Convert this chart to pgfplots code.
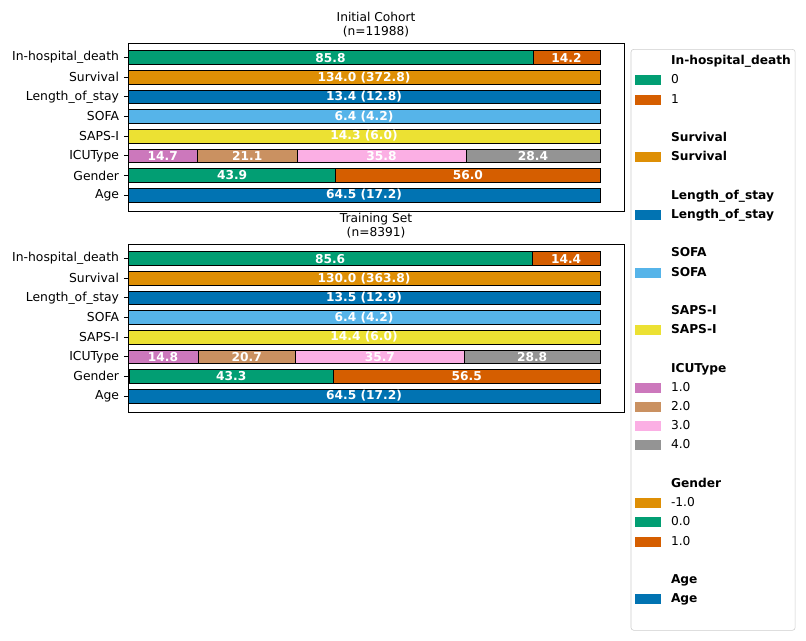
\documentclass[border=0pt]{standalone}
\usepackage{pgfplots}
\pgfplotsset{compat=1.18}
\usepackage{fontspec}
\setmainfont{DejaVu Sans}
\definecolor{cgreen}{HTML}{029E73}
\definecolor{cverm}{HTML}{D55E00}
\definecolor{corange}{HTML}{DE8F05}
\definecolor{cblue}{HTML}{0173B2}
\definecolor{clblue}{HTML}{56B4E9}
\definecolor{cyellow}{HTML}{ECE133}
\definecolor{cpink}{HTML}{CC78BC}
\definecolor{ctan}{HTML}{CA9161}
\definecolor{clpink}{HTML}{FBAFE4}
\definecolor{cgray}{HTML}{949494}
\newcommand{\seg}[3]{\addplot[xbar, forget plot, fill=#1, draw=black, line width=0.5pt, bar width=0.7, bar shift=0pt] coordinates {(#2,#3)};}
\pgfplotsset{
  panel/.style={
    scale only axis, width=357.1pt, height=121pt,
    xmin=0, xmax=105.08, ymin=-0.82, ymax=7.74,
    xtick=\empty, ytick={0,...,7}, ytick pos=left,
    yticklabels={Age,Gender,ICUType,SAPS-I,SOFA,Length\_of\_stay,Survival,In-hospital\_death},
    tick align=outside, major tick length=3pt,
    ytick style={line width=0.6pt, black},
    axis line style={line width=0.6pt},
    yticklabel style={font=\fontsize{8.9}{10}\selectfont},
    every axis title shift=0pt,
    title style={at={(0.5,1)}, anchor=south, yshift=0.8pt, align=center, font=\fontsize{8.8}{10.1}\selectfont},
  },
  barlabels/.style={forget plot, draw=none, mark=none, point meta=explicit symbolic,
    nodes near coords, nodes near coords align=center,
    every node near coord/.append style={text=white, font=\bfseries\fontsize{8.8}{10}\selectfont, anchor=center, inner sep=0pt}},
}
\begin{document}
\begin{tikzpicture}
\useasboundingbox (0,0) rectangle (580.3pt,-460.8pt);
\begin{axis}[panel, at={(92.2pt,-31pt)}, anchor=north west,
  title={Initial Cohort\\(n=11988)},
  legend style={at={(1,1)}, anchor=north west, xshift=4.8pt, yshift=-4.3pt,
    draw=black!20, fill=white, rounded corners=2pt, inner xsep=3.1pt, inner ysep=1.7pt,
    row sep=0pt, column sep=7pt, font=\fontsize{8.8}{10}\selectfont,
    nodes={inner sep=0pt, minimum height=13.83pt}, cells={anchor=west}},
  legend image code/.code={\fill[#1, draw=none, sharp corners] (0pt,-3.6pt) rectangle (18.7pt,3.6pt);},
]
% In-hospital_death
\seg{cverm}{100}{7}
\seg{cgreen}{85.8}{7}
% Survival, LOS, SOFA, SAPS
\seg{corange}{100}{6}
\seg{cblue}{100}{5}
\seg{clblue}{100}{4}
\seg{cyellow}{100}{3}
% ICUType
\seg{cgray}{100}{2}
\seg{clpink}{71.6}{2}
\seg{ctan}{35.8}{2}
\seg{cpink}{14.7}{2}
% Gender
\seg{cverm}{100}{1}
\seg{cgreen}{44.0}{1}
\seg{corange}{0.1}{1}
% Age
\seg{cblue}{100}{0}
\addplot[barlabels] coordinates {
 (42.9,7) [85.8] (92.9,7) [14.2]
 (50,6) [134.0 (372.8)] (50,5) [13.4 (12.8)] (50,4) [6.4 (4.2)] (50,3) [14.3 (6.0)]
 (7.35,2) [14.7] (25.25,2) [21.1] (53.7,2) [35.8] (85.8,2) [28.4]
 (22.05,1) [43.9] (72.0,1) [56.0]
 (50,0) [64.5 (17.2)]
};
% legend
\addlegendimage{empty legend}\addlegendentry{\textbf{In-hospital\_death}}
\addlegendimage{fill=cgreen}\addlegendentry{0}
\addlegendimage{fill=cverm}\addlegendentry{1}
\addlegendimage{empty legend}\addlegendentry{}
\addlegendimage{empty legend}\addlegendentry{\textbf{Survival}}
\addlegendimage{fill=corange}\addlegendentry{\textbf{Survival}}
\addlegendimage{empty legend}\addlegendentry{}
\addlegendimage{empty legend}\addlegendentry{\textbf{Length\_of\_stay}}
\addlegendimage{fill=cblue}\addlegendentry{\textbf{Length\_of\_stay}}
\addlegendimage{empty legend}\addlegendentry{}
\addlegendimage{empty legend}\addlegendentry{\textbf{SOFA}}
\addlegendimage{fill=clblue}\addlegendentry{\textbf{SOFA}}
\addlegendimage{empty legend}\addlegendentry{}
\addlegendimage{empty legend}\addlegendentry{\textbf{SAPS-I}}
\addlegendimage{fill=cyellow}\addlegendentry{\textbf{SAPS-I}}
\addlegendimage{empty legend}\addlegendentry{}
\addlegendimage{empty legend}\addlegendentry{\textbf{ICUType}}
\addlegendimage{fill=cpink}\addlegendentry{1.0}
\addlegendimage{fill=ctan}\addlegendentry{2.0}
\addlegendimage{fill=clpink}\addlegendentry{3.0}
\addlegendimage{fill=cgray}\addlegendentry{4.0}
\addlegendimage{empty legend}\addlegendentry{}
\addlegendimage{empty legend}\addlegendentry{\textbf{Gender}}
\addlegendimage{fill=corange}\addlegendentry{-1.0}
\addlegendimage{fill=cgreen}\addlegendentry{0.0}
\addlegendimage{fill=cverm}\addlegendentry{1.0}
\addlegendimage{empty legend}\addlegendentry{}
\addlegendimage{empty legend}\addlegendentry{\textbf{Age}}
\addlegendimage{fill=cblue}\addlegendentry{\textbf{Age}}
\addlegendimage{empty legend}\addlegendentry{}
\end{axis}
\begin{axis}[panel, at={(92.2pt,-175.7pt)}, anchor=north west,
  title={Training Set\\(n=8391)}]
\seg{cverm}{100}{7}
\seg{cgreen}{85.6}{7}
\seg{corange}{100}{6}
\seg{cblue}{100}{5}
\seg{clblue}{100}{4}
\seg{cyellow}{100}{3}
\seg{cgray}{100}{2}
\seg{clpink}{71.2}{2}
\seg{ctan}{35.5}{2}
\seg{cpink}{14.8}{2}
\seg{cverm}{100}{1}
\seg{cgreen}{43.5}{1}
\seg{corange}{0.2}{1}
\seg{cblue}{100}{0}
\addplot[barlabels] coordinates {
 (42.8,7) [85.6] (92.8,7) [14.4]
 (50,6) [130.0 (363.8)] (50,5) [13.5 (12.9)] (50,4) [6.4 (4.2)] (50,3) [14.4 (6.0)]
 (7.4,2) [14.8] (25.15,2) [20.7] (53.35,2) [35.7] (85.6,2) [28.8]
 (21.85,1) [43.3] (71.75,1) [56.5]
 (50,0) [64.5 (17.2)]
};
\end{axis}
\end{tikzpicture}
\end{document}
